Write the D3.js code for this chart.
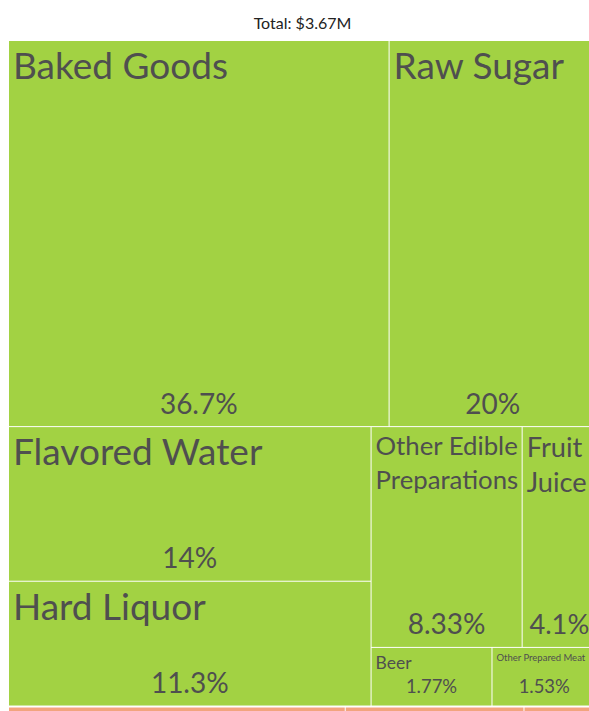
<!DOCTYPE html>
<html>
<head>
<meta charset="utf-8">
<script src="https://cdn.jsdelivr.net/npm/d3@7"></script>
<style>
  html, body { margin: 0; padding: 0; background: #fff; overflow: hidden; }
  svg { display: block; font-family: Lato, "Open Sans", sans-serif; }
</style>
</head>
<body>
<svg id="chart" width="589" height="711"></svg>
<script>
// Export shares (% of total), one group per product section
const totalLabel = "Total: $3.67M";

const foodCategories = ["Baked Goods", "Raw Sugar", "Flavored Water", "Hard Liquor",
  "Other Edible Preparations", "Fruit Juice", "Beer", "Other Prepared Meat"];
const foodShares = [36.7, 20, 14, 11.3, 8.33, 4.1, 1.77, 1.53];

const vegCategories = ["Coffee", "Spices", "Tea"];
const vegShares = [1.3, 0.69, 0.28];

const groupNames = ["Foodstuffs", "Vegetable Products"];
const groupColors = ["#a2d243", "#f2a47e"];

// the map is wider and taller than the visible page and gets cut at the edges
const pageW = 589;
const mapLeft = 9, mapTop = 41, mapW = 587, mapH = 680;
const textColor = "#4f4f4f";

const svg = d3.select("#chart");

svg.append("text")
  .attr("x", mapLeft + mapW / 2).attr("y", 29)
  .attr("text-anchor", "middle")
  .attr("font-size", 16)
  .attr("fill", "#222")
  .text(totalLabel);

const tree = {
  name: "root",
  children: [
    { name: groupNames[0], color: groupColors[0],
      children: foodCategories.map((n, i) => ({ name: n, value: foodShares[i] })) },
    { name: groupNames[1], color: groupColors[1],
      children: vegCategories.map((n, i) => ({ name: n, value: vegShares[i] })) }
  ]
};

const root = d3.hierarchy(tree).sum(d => d.value || 0).sort((a, b) => b.value - a.value);

d3.treemap()
  .tile(d3.treemapSquarify)
  .size([mapW, mapH])
  .paddingInner(d => d.depth === 0 ? 2 : 1)
  .round(false)(root);

const g = svg.append("g").attr("transform", `translate(${mapLeft},${mapTop})`);

// text measuring for label fitting
const ctx = document.createElement("canvas").getContext("2d");
function measure(str, size) {
  ctx.font = `${size}px Lato, "Open Sans", sans-serif`;
  return ctx.measureText(str).width;
}
function wrap(str, size, maxW) {
  const words = str.split(" ");
  const lines = [];
  let cur = "";
  for (const w of words) {
    if (measure(w, size) > maxW) return null;
    const t = cur ? cur + " " + w : w;
    if (measure(t, size) <= maxW) cur = t;
    else { lines.push(cur); cur = w; }
  }
  if (cur) lines.push(cur);
  return lines;
}
function fitName(str, maxW, h) {
  const maxH = h * 0.4;
  for (let s = 37; s >= 6; s -= 0.25) {
    const lines = wrap(str, s, maxW);
    if (lines && lines.length * s * 1.3 <= maxH) return { s, lines };
  }
  return null;
}
function fitPct(str, maxW, h) {
  let s = Math.min(28, h * 0.32);
  while (s > 6 && measure(str, s) > maxW) s -= 0.25;
  return s;
}

const leaves = root.leaves();

g.selectAll("rect")
  .data(leaves)
  .join("rect")
  .attr("x", d => d.x0)
  .attr("y", d => d.y0)
  .attr("width", d => Math.max(0, d.x1 - d.x0))
  .attr("height", d => Math.max(0, d.y1 - d.y0))
  .attr("fill", d => d.parent.data.color);

const labelled = leaves.filter(d => d.y1 - d.y0 > 30);

const lab = g.selectAll("g.label")
  .data(labelled)
  .join("g")
  .attr("class", "label")
  .attr("fill", textColor);

const visRight = pageW - mapLeft;

lab.each(function (d) {
  const h = d.y1 - d.y0;
  const sel = d3.select(this);
  // names are fitted to the part of the cell inside the page
  const nameW = Math.min(d.x1, visRight) - d.x0 - 6;
  const nm = fitName(d.data.name, nameW, h);
  if (nm) {
    const t = sel.append("text")
      .attr("font-size", nm.s)
      .attr("x", d.x0 + 4)
      .attr("y", d.y0 + 5 + nm.s * 0.9);
    nm.lines.forEach((ln, i) => {
      t.append("tspan")
        .attr("x", d.x0 + 4)
        .attr("dy", i === 0 ? 0 : nm.s * 1.3)
        .text(ln);
    });
  }
  const pct = d3.format("~r")(d.data.value) + "%";
  const cx = (d.x0 + d.x1) / 2;
  const pctW = Math.min(d.x1 - d.x0 - 8, 2 * (visRight - cx) + 1);
  const ps = fitPct(pct, pctW, h);
  sel.append("text")
    .attr("font-size", ps)
    .attr("text-anchor", "middle")
    .attr("x", cx)
    .attr("y", d.y1 - 12.5)
    .text(pct);
});
</script>
</body>
</html>
